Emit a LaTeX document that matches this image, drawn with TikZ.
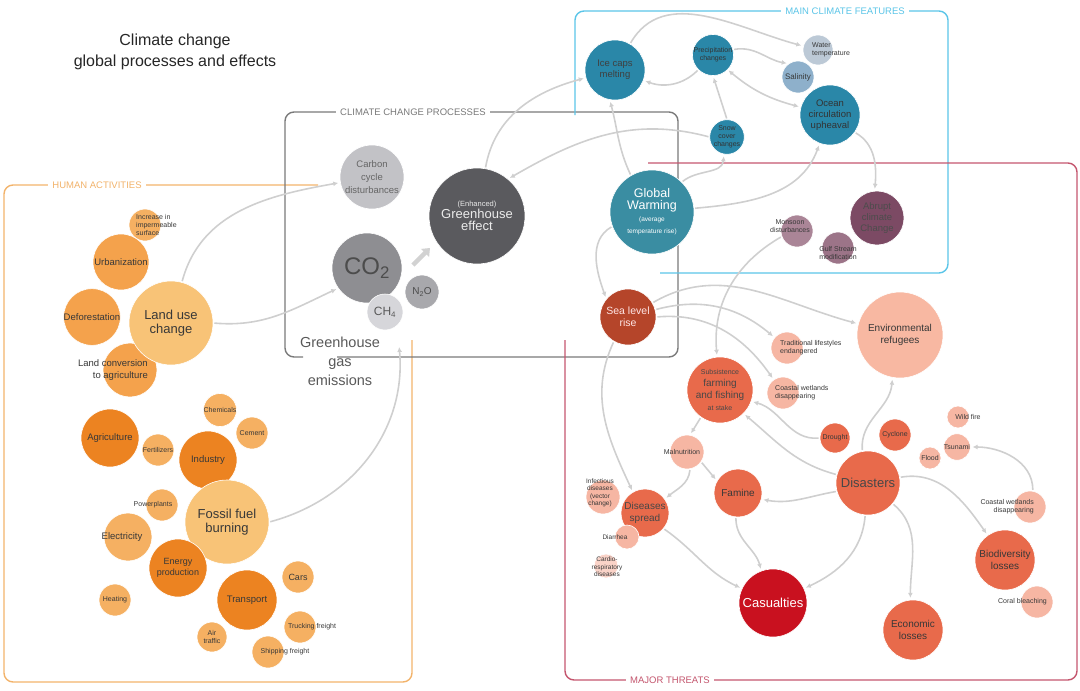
\documentclass[tikz,border=0pt]{standalone}
\usepackage{fontspec}
\setmainfont{Liberation Sans}
\usetikzlibrary{arrows.meta,calc}
\definecolor{oL}{HTML}{F8C377}
\definecolor{oM}{HTML}{F4A24C}
\definecolor{oD}{HTML}{EC8321}
\definecolor{oP}{HTML}{F5B062}
\definecolor{gL}{HTML}{C2C2C6}
\definecolor{gM}{HTML}{8E8E92}
\definecolor{gD}{HTML}{5A5A5E}
\definecolor{gP}{HTML}{D6D6DA}
\definecolor{gN}{HTML}{A8A8AC}
\definecolor{bD}{HTML}{2A87A8}
\definecolor{bT}{HTML}{3A8DA2}
\definecolor{bP}{HTML}{BCC9D6}
\definecolor{bS}{HTML}{8EB0CB}
\definecolor{pD}{HTML}{7C4A64}
\definecolor{pM}{HTML}{AA8597}
\definecolor{pN}{HTML}{9C7488}
\definecolor{rD}{HTML}{B5452A}
\definecolor{rM}{HTML}{E86A4B}
\definecolor{rP}{HTML}{F6B6A3}
\definecolor{rR}{HTML}{C9111F}
\definecolor{rF}{HTML}{F8B8A2}
\definecolor{fO}{HTML}{F2B36B}
\definecolor{fG}{HTML}{7A7A7A}
\definecolor{fB}{HTML}{5BC5E8}
\definecolor{fR}{HTML}{C4566E}
\definecolor{cn}{HTML}{CFCFCF}
\newcommand\fz[2]{\fontsize{#1}{#2}\selectfont}
\begin{document}
\begin{tikzpicture}[x=1pt,y=-1pt,
  bub/.style={circle,inner sep=0pt,align=center,minimum size={2*#1pt},draw=white,line width=0.6pt,text=black!78},
  frame/.style={line width=1.4pt,rounded corners=9pt},
  ftitle/.style={fill=white,inner xsep=4pt,inner ysep=1pt,font=\fz{9.5}{11}},
  conn/.style={draw=cn,line width=1.6pt,-{Latex[length=5pt,width=5pt]},shorten >=2pt,shorten <=1pt},
  lbl/.style={inner sep=0pt,text=black!78},
  s7/.style={font=\fz{7}{8}},
  s8/.style={font=\fz{8}{9}},
  s10/.style={font=\fz{10}{11.5}},
  s13/.style={font=\fz{13}{14.5}}]
\useasboundingbox (0,0) rectangle (1080,691);
% title
\node[font=\fz{16}{21},align=center,text=black!85] (title) at (175,52) {Climate change\\global processes and effects};
% frames
\draw[frame,fO] (318,185) -- (4,185) -- (4,682) -- (412,682) -- (412,340);
\node[ftitle,text=fO] (tHA) at (97,185) {HUMAN ACTIVITIES};
\draw[frame,fG] (303,357) -- (285,357) -- (285,112) -- (678,112) -- (678,357) -- (337,357);
\node[ftitle,text=fG] (tCP) at (413,112) {CLIMATE CHANGE PROCESSES};
\draw[frame,fB] (575,115) -- (575,11) -- (948,11) -- (948,273) -- (660,273);
\node[ftitle,text=fB] (tMF) at (845,11) {MAIN CLIMATE FEATURES};
\draw[frame,fR] (648,163) -- (1077,163) -- (1077,680) -- (565,680) -- (565,340);
\node[ftitle,text=fR] (tMT) at (670,680) {MAJOR THREATS};
% greenhouse gas label
\node[font=\fz{14.5}{19},align=center,text=black!65,inner sep=0pt] (ghg) at (340,361) {Greenhouse\\gas\\emissions};
\coordinate (ghgin) at (399,345);
% ---------- human activities
\node[bub=16,fill=oP] (imp) at (145,225) {};
\node[lbl,s7,anchor=west,align=left] (impt) at (136,225) {Increase in\\impermeable\\surface};
\node[bub=28,fill=oM,font=\fz{9.5}{11}] (urb) at (121,262) {Urbanization};
\node[bub=27,fill=oM,font=\fz{9.5}{11}] (def) at (92,317) {Deforestation};
\node[bub=27,fill=oM] (lconv) at (130,370) {};
\node[lbl,font=\fz{9.5}{11.5},anchor=east,align=right] (lconvt) at (148,370) {Land conversion\\to agriculture};
\node[bub=42,fill=oL,s13] (land) at (171,323) {Land use\\change};
\node[bub=29,fill=oD,font=\fz{9.5}{11}] (agr) at (110,438) {Agriculture};
\node[bub=16,fill=oP,s7] (fert) at (158,450) {Fertilizers};
\node[bub=15,fill=oP,s7] (chem) at (220,410) {Chemicals};
\node[bub=16,fill=oP,s7] (cem) at (252,433) {Cement};
\node[bub=29,fill=oD,font=\fz{9.5}{11}] (ind) at (208,460) {Industry};
\node[bub=16,fill=oP] (pow) at (162,505) {};
\node[lbl,s7] (powt) at (153,505) {Powerplants};
\node[bub=42,fill=oL,s13] (fossil) at (227,522) {Fossil fuel\\burning};
\node[bub=24,fill=oP] (elec) at (128,537) {};
\node[lbl,font=\fz{9.5}{11}] (elect) at (122,537) {Electricity};
\node[bub=29,fill=oD,font=\fz{9}{10.5}] (energy) at (178,568) {Energy\\production};
\node[bub=16,fill=oP,s7] (heat) at (115,600) {Heating};
\node[bub=30,fill=oD,font=\fz{9.5}{11}] (trans) at (247,600) {Transport};
\node[bub=16,fill=oP,font=\fz{9}{10}] (cars) at (298,577) {Cars};
\node[bub=15,fill=oP,s7] (air) at (212,637) {Air\\traffic};
\node[bub=16,fill=oP] (truck) at (300,627) {};
\node[lbl,s7] (truckt) at (312,627) {Trucking freight};
\node[bub=16,fill=oP] (ship) at (268,652) {};
\node[lbl,s7] (shipt) at (285,652) {Shipping freight};
% ---------- climate change processes
\node[bub=32,fill=gL,font=\fz{9.5}{13},text=black!60] (carbon) at (372,177) {Carbon\\cycle\\disturbances};
\node[bub=35,fill=gM,font=\fz{24}{26},text=black!70] (co2) at (367,268) {CO\textsubscript{2}};
\node[bub=18,fill=gP,font=\fz{12}{13},text=black!65] (ch4) at (385,312) {CH\textsubscript{4}};
\node[bub=17,fill=gN,font=\fz{10}{11},text=black!70] (n2o) at (422,292) {N\textsubscript{2}O};
\node[bub=48,fill=gD,text=white!92!black,align=center] (ghe) at (477,216) {{\fz{7.5}{10}(Enhanced)}\\{\fz{13}{15}Greenhouse}\\{\fz{13}{15}effect}};
\draw[gray!35,line width=4.5pt,-{Triangle[length=7pt,width=11pt]}] ($(co2)+(46,-3)$) -- ($(co2)+(63,-20)$);
% ---------- main climate features
\node[bub=30,fill=bD,font=\fz{9.5}{11},text=black!75] (ice) at (615,70) {Ice caps\\melting};
\node[bub=18,fill=bD,s7,text=black!80] (precip) at (713,55) {Precipitation\\changes};
\node[bub=15,fill=bP] (wt) at (818,50) {};
\node[lbl,s7,anchor=west,align=left] (wtt) at (812,50) {Water\\temperature};
\node[bub=16,fill=bS,s8] (sal) at (798,77) {Salinity};
\node[bub=30,fill=bD,font=\fz{9.5}{11},text=black!80] (ocean) at (830,115) {Ocean\\circulation\\upheaval};
\node[bub=17,fill=bD,s7,text=black!80] (snow) at (727,137) {Snow\\cover\\changes};
\node[bub=42,fill=bT,text=white,align=center] (gw) at (652,212) {{\fz{12.5}{14}Global}\\{\fz{12.5}{14}Warming}\\{\fz{6.5}{8}(average}\\{\fz{6.5}{8}temperature rise)}};
\node[bub=27,fill=pD,font=\fz{9.5}{11},text=black!70] (abrupt) at (877,218) {Abrupt\\climate\\Change};
\node[bub=16,fill=pM] (mons) at (797,231) {};
\node[lbl,s7,align=center] (monst) at (790,226) {Monsoon\\disturbances};
\node[bub=16,fill=pN] (gulf) at (838,248) {};
\node[lbl,s7,align=center] (gulft) at (838,253) {Gulf Stream\\modification};
% ---------- major threats
\node[bub=28,fill=rD,font=\fz{10.5}{12},text=white!90!red] (sea) at (628,317) {Sea level\\rise};
\node[bub=16,fill=rP] (trad) at (787,348) {};
\node[lbl,s7,anchor=west,align=left] (tradt) at (780,348) {Traditional lifestyles\\endangered};
\node[bub=43,fill=rF,s10] (ref) at (900,335) {Environmental\\refugees};
\node[bub=16,fill=rP] (cw1) at (783,393) {};
\node[lbl,s7,anchor=west,align=left] (cw1t) at (775,393) {Coastal wetlands\\disappearing};
\node[bub=33,fill=rM,align=center,text=black!72] (subs) at (720,390) {{\fz{7}{9}Subsistence}\\{\fz{10}{11}farming}\\{\fz{10}{11}and fishing}\\{\fz{7}{9}at stake}};
\node[bub=17,fill=rP] (mal) at (687,452) {};
\node[lbl,s7] (malt) at (682,452) {Malnutrition};
\node[bub=15,fill=rM,s7] (drought) at (835,438) {Drought};
\node[bub=16,fill=rM,s7] (cyc) at (895,435) {Cyclone};
\node[bub=11,fill=rP] (wild) at (958,417) {};
\node[lbl,s7] (wildt) at (968,417) {Wild fire};
\node[bub=11,fill=rP,s7] (tsu) at (957,447) {Tsunami};
\node[bub=11,fill=rP,s7] (flood) at (930,458) {Flood};
\node[bub=32,fill=rM,font=\fz{13}{15},text=black!72] (disas) at (868,483) {Disasters};
\node[bub=24,fill=rM,s10] (famine) at (738,493) {Famine};
\node[bub=17,fill=rP] (infect) at (603,497) {};
\node[lbl,font=\fz{6.5}{7.5},align=center] (infectt) at (600,493) {Infectious\\diseases\\(vector\\change)};
\node[bub=24,fill=rM,font=\fz{10}{11.5},text=black!72] (dis) at (645,513) {Diseases\\spread};
\node[bub=12,fill=rP] (diar) at (627,537) {};
\node[lbl,font=\fz{6.5}{7.5}] (diart) at (615,537) {Diarrhea};
\node[bub=12,fill=rP!60!white] (cardio) at (606,566) {};
\node[lbl,font=\fz{6.5}{7.5},align=center] (cardiot) at (607,567) {Cardio-\\respiratory\\diseases};
\node[bub=34,fill=rR,font=\fz{13}{15},text=white] (cas) at (773,603) {Casualties};
\node[bub=30,fill=rM,s10] (eco) at (913,630) {Economic\\losses};
\node[bub=16,fill=rP] (cw2) at (1030,507) {};
\node[lbl,s7,anchor=east,align=right] (cw2t) at (1034,507) {Coastal wetlands\\disappearing};
\node[bub=30,fill=rM,s10] (bio) at (1005,560) {Biodiversity\\losses};
\node[bub=16,fill=rP] (coral) at (1037,602) {};
\node[lbl,s7,anchor=east] (coralt) at (1047,602) {Coral bleaching};
% ---------- connectors
\draw[conn] (land.75) to[out=75,in=190] (carbon.190);
\draw[conn] (land.east) to[out=-5,in=205] (co2.215);
\draw[conn] (fossil.east) to[out=15,in=-85] (ghgin);
\draw[conn] (ghe.80) to[out=80,in=195] (ice.195);
\draw[conn] (snow.west) to[out=165,in=30] (ghe.50);
\draw[conn] (gw.120) to[out=115,in=-75] (ice.-100);
\draw[conn] (gw.200) to[out=210,in=110] (sea.140);
\draw[conn] (ice.60) to[out=60,in=165] (wt.165);
\draw[conn] (precip.225) to[out=225,in=-20] (ice.-20);
\draw[conn] (precip.15) to[out=10,in=170] (sal.125);
\draw[conn] (snow.north) -- (precip.south);
\draw[conn,{Latex[length=5pt,width=5pt]}-{Latex[length=5pt,width=5pt]}] (precip.-45) to[out=-40,in=165] (ocean.165);
\draw[conn] (gw.45) to[out=40,in=-95] (snow.-100);
\draw[conn] (gw.5) to[out=5,in=-110] (ocean.-110);
\draw[conn] (ocean.-35) to[out=-30,in=85] (abrupt.95);
\draw[conn] (mons.200) to[out=210,in=95] (subs.95);
\draw[conn] (sea.30) to[out=30,in=165] (ref.165);
\draw[conn] (sea.15) to[out=15,in=140] (trad.140);
\draw[conn] (sea.0) to[out=5,in=125] (cw1.125);
\draw[conn] (sea.240) to[out=245,in=115] (dis.120);
\draw[conn] (subs.235) to (mal.80);
\draw[conn] (mal.-35) to (famine.150);
\draw[conn] (mal.-80) to[out=-95,in=40] (dis.35);
\draw[conn] (dis.-40) to[out=-35,in=155] (cas.155);
\draw[conn] (famine.-95) to[out=-90,in=105] (cas.110);
\draw[conn] (disas.-95) to[out=-95,in=25] (cas.25);
\draw[conn] (disas.-40) to[out=-40,in=90] (eco.95);
\draw[conn] (disas.10) to[out=10,in=125] (bio.125);
\draw[conn] (disas.195) to[out=190,in=-10] (famine.-15);
\draw[conn] (drought.west) to[out=185,in=-15] (subs.-20);
\draw[conn] (disas.165) to[out=165,in=-40] (subs.-45);
\draw[conn] (disas.100) to[out=95,in=-95] (ref.-100);
\draw[conn] (cw2.80) to[out=90,in=0] (tsu.east);
\end{tikzpicture}
\end{document}
